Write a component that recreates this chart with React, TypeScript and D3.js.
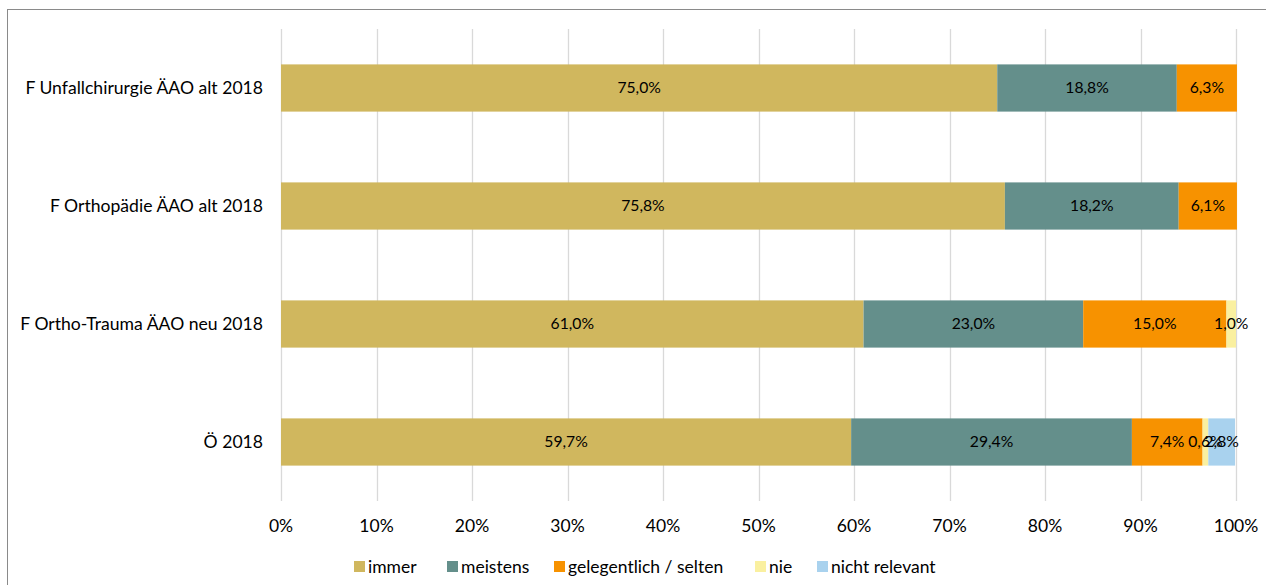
import React from "react";
import * as d3 from "d3";

const categories = [
  "F Unfallchirurgie ÄAO alt 2018",
  "F Orthopädie ÄAO alt 2018",
  "F Ortho-Trauma ÄAO neu 2018",
  "Ö 2018",
];
const seriesNames = ["immer", "meistens", "gelegentlich / selten", "nie", "nicht relevant"];
const immer = [75.0, 75.8, 61.0, 59.7];
const meistens = [18.8, 18.2, 23.0, 29.4];
const gelegentlich = [6.3, 6.1, 15.0, 7.4];
const nie = [0, 0, 1.0, 0.6];
const nichtRelevant = [0, 0, 0, 2.8];
const xTicks = [0, 10, 20, 30, 40, 50, 60, 70, 80, 90, 100];

const colors = ["#D0B75E", "#648F8B", "#F79200", "#FAF0A0", "#A9D2EE"];
const legendX = [354, 447, 554, 755, 817];

const W = 1266;
const H = 585;
const FONT = "Lato, 'Open Sans', sans-serif";

export default function App() {
  const series = [immer, meistens, gelegentlich, nie, nichtRelevant];
  const x = d3.scaleLinear().domain([0, 100]).range([281, 1236]);
  const y = d3
    .scaleBand<string>()
    .domain(categories)
    .range([29, 501])
    .paddingInner(0.6)
    .paddingOuter(0.3);
  const fmt = (v: number) => v.toFixed(1).replace(".", ",") + "%";

  const segs: any[] = [];
  categories.forEach((c, ci) => {
    let cum = 0;
    series.forEach((s, si) => {
      const v = s[ci];
      if (v > 0) {
        segs.push({ c, si, x0: cum, x1: cum + v, v });
      }
      cum += v;
    });
  });

  return (
    <svg
      width={W}
      height={H}
      style={{ position: "absolute", left: 0, top: 0, background: "#fff" }}
      fontFamily={FONT}
    >
      <rect x={7.5} y={9.5} width={1300} height={640} fill="#fff" stroke="#8a8a8a" strokeWidth={1} />
      {xTicks.map((t) => (
        <line
          key={"g" + t}
          x1={Math.round(x(t)) + 0.5}
          x2={Math.round(x(t)) + 0.5}
          y1={29}
          y2={501}
          stroke="#D9D9D9"
          strokeWidth={1.3}
        />
      ))}
      {segs.map((s, i) => (
        <rect
          key={"r" + i}
          x={x(s.x0)}
          width={x(s.x1) - x(s.x0)}
          y={y(s.c)!}
          height={y.bandwidth()}
          fill={colors[s.si]}
        />
      ))}
      {segs.map((s, i) => (
        <text
          key={"l" + i}
          x={(x(s.x0) + x(s.x1)) / 2}
          y={y(s.c)! + y.bandwidth() / 2}
          dy="0.35em"
          textAnchor="middle"
          fontSize={15.7}
          fill="#000"
        >
          {fmt(s.v)}
        </text>
      ))}
      {categories.map((c) => (
        <text
          key={"c" + c}
          x={263}
          y={y(c)! + y.bandwidth() / 2}
          dy="0.35em"
          textAnchor="end"
          fontSize={17.6}
          fill="#000"
        >
          {c}
        </text>
      ))}
      {xTicks.map((t) => (
        <text
          key={"t" + t}
          x={x(t)}
          y={526}
          dy="0.35em"
          textAnchor="middle"
          fontSize={17.5}
          fill="#000"
        >
          {t + "%"}
        </text>
      ))}
      {seriesNames.map((n, i) => (
        <g key={"lg" + n}>
          <rect x={legendX[i]} y={561} width={11} height={11} fill={colors[i]} />
          <text x={legendX[i] + 14} y={567} dy="0.35em" fontSize={17.5} fill="#000">
            {n}
          </text>
        </g>
      ))}
    </svg>
  );
}
